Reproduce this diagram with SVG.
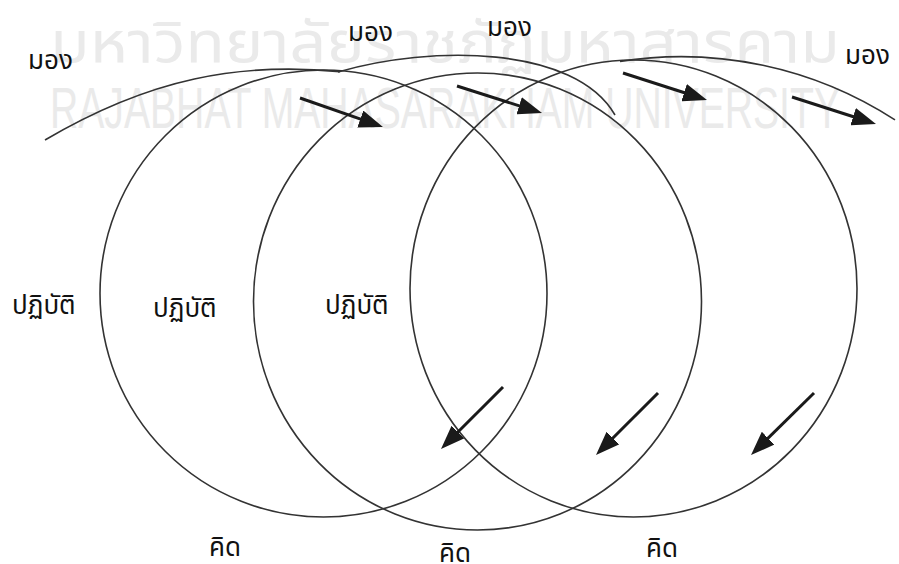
<svg xmlns="http://www.w3.org/2000/svg" width="899" height="564" viewBox="0 0 899 564">
<style>
.wm{fill:#eaeaea;font-family:'Liberation Sans','Noto Sans Thai','Noto Sans',sans-serif}
.ring{fill:none;stroke:#333;stroke-width:1.6}
.arr{stroke:#1a1a1a;stroke-width:3;fill:none}
.lbl{font-family:'Noto Sans Thai','Noto Sans','DejaVu Sans',sans-serif;font-size:26px;fill:#111}
</style>
<defs>
<marker id="ah" viewBox="0 0 24 18" refX="11" refY="9" markerWidth="24" markerHeight="18" markerUnits="userSpaceOnUse" orient="auto">
<path d="M0,0 L24,9 L0,18 z" fill="#1a1a1a"/>
</marker>
</defs>
<rect width="899" height="564" fill="#fff"/>
<g id="watermark">
<text class="wm" x="50" y="62" font-size="58" textLength="790" lengthAdjust="spacingAndGlyphs">มหาวิทยาลัยราชภัฏมหาสารคาม</text>
<text class="wm" x="50" y="128" font-size="57" textLength="790" lengthAdjust="spacingAndGlyphs">RAJABHAT MAHASARAKHAM UNIVERSITY</text>
</g>
<g id="cycle1">
<circle class="ring" cx="323.5" cy="293.5" r="223.5"/>
<path class="ring" d="M45,140 C150,78 240,62 340,71.6"/>
</g>
<g id="cycle2">
<ellipse class="ring" cx="477.5" cy="301.5" rx="224" ry="228.5"/>
<path class="ring" d="M338,72 C430,45 575,45 615,115"/>
</g>
<g id="cycle3">
<ellipse class="ring" cx="633.5" cy="288.5" rx="223.5" ry="228.5"/>
<path class="ring" d="M620,61.4 A393.4,393.4 0 0,1 895,119.9"/>
</g>
<g id="connectors">
<line class="arr" x1="300" y1="98" x2="370.7" y2="122.7" marker-end="url(#ah)"/>
<line class="arr" x1="457" y1="86" x2="529.6" y2="109.1" marker-end="url(#ah)"/>
<line class="arr" x1="623" y1="73" x2="694.6" y2="96" marker-end="url(#ah)"/>
<line class="arr" x1="792" y1="97" x2="863.6" y2="120" marker-end="url(#ah)"/>
<line class="arr" x1="503" y1="387" x2="450.2" y2="439.8" marker-end="url(#ah)"/>
<line class="arr" x1="658" y1="393" x2="605.2" y2="445.8" marker-end="url(#ah)"/>
<line class="arr" x1="814" y1="393" x2="760.3" y2="445.9" marker-end="url(#ah)"/>
</g>
<g id="labels">
<text class="lbl" x="28" y="69">มอง</text>
<text class="lbl" x="348" y="41">มอง</text>
<text class="lbl" x="487" y="36">มอง</text>
<text class="lbl" x="845" y="64">มอง</text>
<text class="lbl" x="12" y="314">ปฏิบัติ</text>
<text class="lbl" x="153" y="317">ปฏิบัติ</text>
<text class="lbl" x="325" y="314">ปฏิบัติ</text>
<text class="lbl" x="209" y="556">คิด</text>
<text class="lbl" x="439" y="562">คิด</text>
<text class="lbl" x="646" y="557">คิด</text>
</g>
</svg>
